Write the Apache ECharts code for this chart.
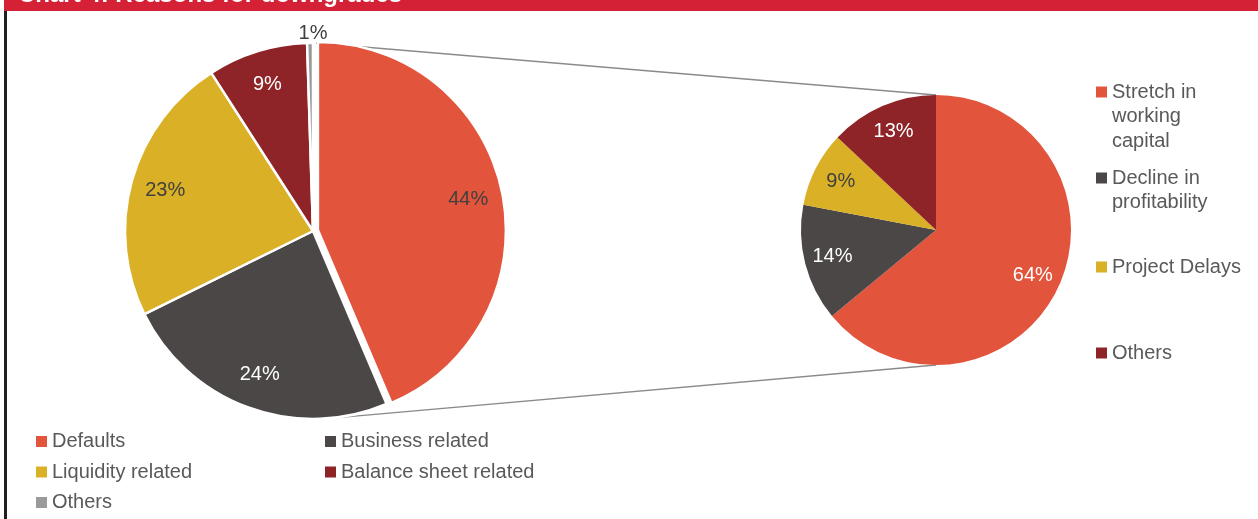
<!DOCTYPE html>
<html>
<head>
<meta charset="utf-8">
<script src="https://cdn.jsdelivr.net/npm/echarts@6/dist/echarts.min.js"></script>
<style>
  html, body { margin: 0; padding: 0; background: #fff; }
  #chart { width: 1258px; height: 519px; }
</style>
</head>
<body>
<div id="chart"></div>
<script>
// left pie: reasons for downgrades
var leftNames = ['Defaults', 'Business related', 'Liquidity related', 'Balance sheet related', 'Others'];
var leftValues = [43.6, 24.1, 23.2, 8.6, 0.5];
// right pie: break-up of defaults
var rightNames = ['Stretch in\nworking\ncapital', 'Decline in\nprofitability', 'Project Delays', 'Others'];
var rightValues = [64, 14, 9, 13];

var leftColors = ['#E2543C', '#4B4746', '#DAB027', '#8E2427', '#9A9A9A'];
var leftLabelColors = ['#404040', '#ffffff', '#404040', '#ffffff', '#404040'];
var rightColors = ['#E2543C', '#4B4746', '#DAB027', '#8E2427'];
var rightLabelColors = ['#ffffff', '#ffffff', '#404040', '#ffffff'];

var FONT = 'Liberation Sans, Arial, sans-serif';
var leftC = [313, 231], leftR = 188;
var rightC = [936, 230], rightR = 135;

var myChart = echarts.init(document.getElementById('chart'));

function pct(p) { return Math.round(p.value) + '%'; }

var leftData = leftNames.map(function (n, i) {
  return { name: n, value: leftValues[i], selected: i === 0, itemStyle: { color: leftColors[i] } };
});
var leftLabelData = leftNames.map(function (n, i) {
  var d = { name: n, value: leftValues[i], selected: i === 0, label: { color: leftLabelColors[i] } };
  if (i === 4) {
    d.label.position = 'outside';
    d.labelLine = { show: false, length: 0, length2: 0 };
  }
  return d;
});
var rightData = rightNames.map(function (n, i) {
  return { name: n, value: rightValues[i], itemStyle: { color: rightColors[i] } };
});
var rightLabelData = rightNames.map(function (n, i) {
  return { name: n, value: rightValues[i], label: { color: rightLabelColors[i] } };
});

// right legend, one per item; blank lines in front keep the marker next to the first line
var rightTops = [92, 178, 267, 353];
var LH = 24.5;
var rightLegends = rightNames.map(function (n, i) {
  var lines = n.split('\n').length;
  var h = (2 * lines - 1) * LH;
  var item = { name: n };
  if (i === 3) item.itemStyle = { color: rightColors[3], borderWidth: 0 };
  return {
    orient: 'vertical', left: 1096, top: rightTops[i] - h / 2, padding: 0,
    icon: 'rect', itemWidth: 11, itemHeight: 11, selectedMode: false,
    itemStyle: { borderWidth: 0 },
    data: [item],
    formatter: function (name) {
      var k = name.split('\n').length - 1;
      var pre = '';
      for (var j = 0; j < k; j++) pre += ' \n';
      return pre + name;
    },
    textStyle: { fontSize: 20, lineHeight: LH, color: '#595959', fontFamily: FONT }
  };
});

var legendBase = {
  orient: 'vertical', padding: 0, icon: 'rect', itemWidth: 11, itemHeight: 11,
  itemGap: 7.5, selectedMode: false,
  itemStyle: { borderWidth: 0 },
  textStyle: { fontSize: 20, lineHeight: 23, color: '#595959', fontFamily: FONT }
};

var a = (175 / 180) * Math.PI;
var option = {
  animation: false,
  backgroundColor: '#ffffff',
  legend: [
    Object.assign({}, legendBase, { left: 36, top: 430, data: ['Defaults', 'Liquidity related', 'Others'] }),
    Object.assign({}, legendBase, { left: 325, top: 430, data: ['Business related', 'Balance sheet related'] })
  ].concat(rightLegends),
  graphic: [
    { type: 'rect', shape: { x: 4, y: 0, width: 1254, height: 11 }, style: { fill: '#D42136' }, silent: true },
    { type: 'text', x: 18, y: 7, style: { text: 'Chart 4: Reasons for downgrades', fill: '#ffffff', font: 'bold 24px ' + FONT, verticalAlign: 'bottom' }, silent: true },
    { type: 'rect', shape: { x: 4, y: 11, width: 3, height: 508 }, style: { fill: '#231F20' }, silent: true },
    { type: 'line', shape: { x1: leftC[0] + 3, y1: leftC[1] - leftR, x2: rightC[0], y2: rightC[1] - rightR }, style: { stroke: '#8A8A8A', lineWidth: 1.3 }, silent: true },
    { type: 'line', shape: { x1: leftC[0] + leftR * Math.sin(a), y1: leftC[1] - leftR * Math.cos(a), x2: rightC[0], y2: rightC[1] + rightR }, style: { stroke: '#8A8A8A', lineWidth: 1.3 }, silent: true }
  ],
  series: [
    {
      type: 'pie', center: leftC, radius: [0, leftR], startAngle: 90, clockwise: true,
      selectedMode: 'single', selectedOffset: 5, silent: true,
      itemStyle: { borderColor: '#ffffff', borderWidth: 2.5 },
      label: { show: false }, labelLine: { show: false },
      data: leftData
    },
    {
      type: 'pie', center: leftC, radius: [leftR * 0.6, leftR], startAngle: 90, clockwise: true,
      selectedMode: 'single', selectedOffset: 5, silent: true,
      itemStyle: { color: 'rgba(0,0,0,0)', borderWidth: 0 },
      label: { show: true, position: 'inside', formatter: pct, fontSize: 20, fontFamily: FONT },
      labelLine: { show: false },
      labelLayout: function (p) {
        if (p.dataIndex === 4) {
          return { x: leftC[0], y: leftC[1] - leftR - 10, align: 'center', verticalAlign: 'middle' };
        }
      },
      data: leftLabelData
    },
    {
      type: 'pie', center: rightC, radius: [0, rightR], startAngle: 90, clockwise: true,
      silent: true, itemStyle: { borderWidth: 0 },
      label: { show: false }, labelLine: { show: false },
      data: rightData
    },
    {
      type: 'pie', center: rightC, radius: [rightR * 0.54, rightR], startAngle: 90, clockwise: true,
      silent: true, itemStyle: { color: 'rgba(0,0,0,0)', borderWidth: 0 },
      label: { show: true, position: 'inside', formatter: pct, fontSize: 20, fontFamily: FONT },
      labelLine: { show: false },
      data: rightLabelData
    }
  ]
};
myChart.setOption(option);
window.addEventListener('resize', function () { myChart.resize(); });
</script>
</body>
</html>
